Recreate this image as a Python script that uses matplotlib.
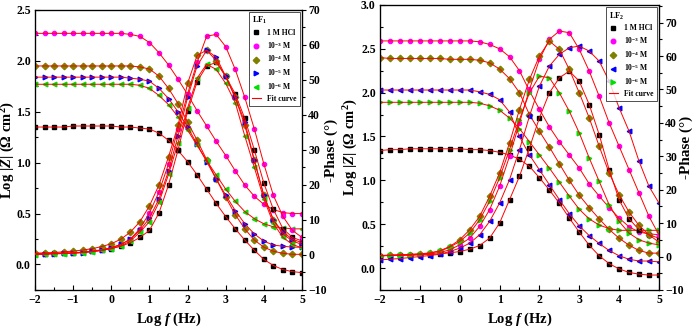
import matplotlib
matplotlib.use("Agg")
import matplotlib.pyplot as plt
from matplotlib.lines import Line2D
from matplotlib.ticker import MultipleLocator
import numpy as np

plt.rcParams['font.family'] = ['Liberation Serif', 'DejaVu Serif']
plt.rcParams['font.weight'] = 'bold'
plt.rcParams['mathtext.fontset'] = 'custom'
plt.rcParams['mathtext.rm'] = 'Liberation Serif:bold'
plt.rcParams['mathtext.it'] = 'Liberation Serif:bold:italic'
plt.rcParams['mathtext.bf'] = 'Liberation Serif:bold'

# log f (Hz), frequency sweep points
logf = np.linspace(-2, 5, 29)

labels = ['1 M HCl', '10$^{-3}$ M', '10$^{-4}$ M', '10$^{-5}$ M', '10$^{-6}$ M']
colors = ['#000000', '#FF00FF', '#808000', '#0000FF', '#00E000']

# ---- LF1 : Log|Z| ----
p1_mag_hcl = [1.35, 1.35, 1.35, 1.35, 1.36, 1.36, 1.36, 1.36, 1.36, 1.35, 1.35, 1.34, 1.33, 1.29, 1.22,
              1.12, 1.01, 0.88, 0.74, 0.60, 0.47, 0.35, 0.24, 0.14, 0.05, -0.01, -0.05, -0.07, -0.08]
p1_mag_m3 = [2.27, 2.27, 2.27, 2.27, 2.27, 2.27, 2.27, 2.27, 2.27, 2.27, 2.26, 2.24, 2.18, 2.08, 1.96,
             1.82, 1.67, 1.51, 1.36, 1.21, 1.07, 0.92, 0.78, 0.67, 0.59, 0.54, 0.51, 0.50, 0.50]
p1_mag_m4 = [1.95, 1.95, 1.95, 1.95, 1.95, 1.95, 1.95, 1.95, 1.95, 1.95, 1.95, 1.94, 1.92, 1.85, 1.73,
             1.58, 1.40, 1.22, 1.03, 0.84, 0.66, 0.49, 0.35, 0.24, 0.17, 0.13, 0.11, 0.10, 0.10]
p1_mag_m5 = [1.84, 1.84, 1.84, 1.84, 1.84, 1.84, 1.84, 1.84, 1.84, 1.84, 1.83, 1.82, 1.80, 1.73, 1.63,
             1.50, 1.35, 1.18, 1.01, 0.84, 0.68, 0.53, 0.40, 0.30, 0.23, 0.19, 0.18, 0.17, 0.17]
p1_mag_m6 = [1.77, 1.77, 1.77, 1.77, 1.77, 1.77, 1.77, 1.77, 1.77, 1.77, 1.77, 1.76, 1.73, 1.66, 1.57,
             1.45, 1.32, 1.17, 1.02, 0.88, 0.74, 0.62, 0.52, 0.45, 0.40, 0.37, 0.36, 0.35, 0.35]

# ---- LF1 : -Phase ----
p1_ph_hcl = [0.3, 0.4, 0.5, 0.5, 0.6, 0.8, 1.0, 1.3, 1.8, 2.5, 3.5, 5.0, 7.0, 12, 20,
             30, 41, 49.5, 54, 55, 51, 46, 39, 30, 20.5, 13, 7.5, 5, 4]
p1_ph_m3 = [0.2, 0.3, 0.4, 0.5, 0.6, 0.8, 1.1, 1.5, 2.1, 3.0, 4.5, 7.5, 12, 18, 26,
            36, 46, 55, 62.5, 63, 59.5, 53, 45, 36, 26, 17, 11, 7, 5]
p1_ph_m4 = [0.5, 0.6, 0.7, 0.9, 1.1, 1.4, 1.8, 2.4, 3.2, 4.5, 6.5, 9.5, 14, 20, 28,
            37, 49, 57, 58.5, 55.5, 51, 45, 37, 27, 17, 10, 6, 4, 3]
p1_ph_m5 = [0.3, 0.3, 0.4, 0.5, 0.5, 0.7, 1.0, 1.4, 2.0, 3.0, 4.5, 7, 10.5, 16, 24,
            34, 45, 54, 58.5, 56.5, 51, 45, 38, 27, 17, 10, 6.5, 4.5, 3.5]
p1_ph_m6 = [0.1, 0.2, 0.3, 0.4, 0.5, 0.7, 0.9, 1.3, 1.8, 2.6, 4, 6.5, 9.5, 15, 23,
            32, 42, 50.5, 54.5, 53, 49, 43.5, 34, 25, 16, 9, 5, 3, 2]

# ---- LF2 : Log|Z| ----
p2_mag_hcl = [1.34, 1.35, 1.35, 1.36, 1.36, 1.36, 1.36, 1.36, 1.36, 1.35, 1.35, 1.34, 1.32, 1.29, 1.24,
              1.16, 1.03, 0.89, 0.74, 0.57, 0.41, 0.26, 0.14, 0.05, -0.01, -0.05, -0.07, -0.08, -0.08]
p2_mag_m3 = [2.59, 2.59, 2.59, 2.59, 2.59, 2.59, 2.59, 2.59, 2.59, 2.59, 2.58, 2.55, 2.50, 2.41, 2.25,
             2.02, 1.81, 1.61, 1.44, 1.29, 1.14, 0.96, 0.82, 0.69, 0.57, 0.47, 0.41, 0.39, 0.38]
p2_mag_m4 = [2.40, 2.39, 2.39, 2.39, 2.39, 2.39, 2.39, 2.38, 2.38, 2.38, 2.37, 2.34, 2.27, 2.16, 2.00,
             1.75, 1.56, 1.38, 1.19, 1.00, 0.83, 0.69, 0.56, 0.44, 0.34, 0.26, 0.20, 0.17, 0.17]
p2_mag_m5 = [2.03, 2.03, 2.03, 2.03, 2.03, 2.03, 2.03, 2.03, 2.03, 2.03, 2.01, 1.98, 1.92, 1.78, 1.50,
             1.29, 1.12, 0.95, 0.78, 0.62, 0.48, 0.37, 0.28, 0.20, 0.14, 0.10, 0.08, 0.08, 0.07]
p2_mag_m6 = [1.89, 1.89, 1.89, 1.89, 1.89, 1.89, 1.89, 1.89, 1.89, 1.89, 1.88, 1.85, 1.80, 1.71, 1.59,
             1.44, 1.29, 1.14, 0.98, 0.82, 0.67, 0.56, 0.49, 0.45, 0.43, 0.43, 0.43, 0.43, 0.43]

# ---- LF2 : -Phase ----
p2_ph_hcl = [0.3, 0.3, 0.4, 0.4, 0.5, 0.6, 0.8, 1.1, 1.5, 2.2, 3.3, 5.5, 10, 17, 24,
             32.5, 41.5, 49, 53.5, 55.5, 52.5, 45.5, 36.5, 26, 17, 11.3, 8, 6.5, 5.5]
p2_ph_m3 = [0.2, 0.3, 0.4, 0.5, 0.6, 0.8, 1.2, 2.0, 3.5, 5.5, 9, 14, 21, 30, 40,
            50, 59, 65, 67.5, 67, 62, 55.5, 48, 40, 33, 26, 19, 12, 6.5]
p2_ph_m4 = [0.3, 0.4, 0.5, 0.6, 0.8, 1.1, 1.7, 3.0, 5.0, 8, 12, 18, 25, 34, 44,
            53, 60, 64.5, 62, 56, 49, 41.5, 33, 25, 18.5, 13.3, 9.3, 6.5, 4.3]
p2_ph_m5 = [-1.0, -0.8, -0.6, -0.3, 0.0, 0.3, 0.7, 1.5, 2.5, 4, 6.5, 10.5, 16, 23, 32,
            42, 51, 57, 60.5, 62.5, 63, 61.5, 58.5, 52.5, 44.5, 37.5, 28.5, 21, 16]
p2_ph_m6 = [0.3, 0.4, 0.5, 0.6, 0.8, 1.0, 1.6, 2.8, 4.5, 7, 11, 16.5, 23.5, 32, 41,
            49, 54, 53.5, 49, 43.5, 37, 29.5, 22.5, 15.5, 10.5, 7, 5, 4, 3.5]

panels = [
    dict(mag=[p1_mag_hcl, p1_mag_m3, p1_mag_m4, p1_mag_m5, p1_mag_m6],
         ph=[p1_ph_hcl, p1_ph_m3, p1_ph_m4, p1_ph_m5, p1_ph_m6],
         markers=['s', 'o', 'D', '>', '<'], title='LF$_1$',
         rect=[0.0505, 0.124, 0.3853, 0.846], ylim=(-0.25, 2.5), y2lim=(-10, 70),
         ylab_x=-0.066, y2lab_x=1.086),
    dict(mag=[p2_mag_hcl, p2_mag_m3, p2_mag_m4, p2_mag_m5, p2_mag_m6],
         ph=[p2_ph_hcl, p2_ph_m3, p2_ph_m4, p2_ph_m5, p2_ph_m6],
         markers=['s', 'o', 'D', '<', '>'], title='LF$_2$',
         rect=[0.5483, 0.124, 0.4026, 0.861], ylim=(-0.25, 3.0), y2lim=(-10, 75.3),
         ylab_x=-0.071, y2lab_x=1.072),
]

fig = plt.figure(figsize=(6.93, 3.31), dpi=100)

for pn in panels:
    ax = fig.add_axes(pn['rect'])
    ax2 = ax.twinx()
    handles = []
    for i in range(5):
        ms = 3.0 if pn['markers'][i] in ('s', 'o') else 3.3
        ax.plot(logf, pn['mag'][i], linestyle='none', marker=pn['markers'][i], ms=ms,
                color=colors[i], mec=colors[i], zorder=2)
        ax2.plot(logf, pn['ph'][i], linestyle='none', marker=pn['markers'][i], ms=ms,
                 color=colors[i], mec=colors[i], zorder=2)
        handles.append(Line2D([], [], linestyle='none', marker=pn['markers'][i], ms=3.3,
                              color=colors[i], mec=colors[i], label=labels[i]))
    for i in range(5):
        ax.plot(logf, pn['mag'][i], color='red', lw=0.7, zorder=3)
        ax2.plot(logf, pn['ph'][i], color='red', lw=0.7, zorder=3)
    handles.append(Line2D([], [], color='red', lw=0.8, label='Fit curve'))

    ax.set_xlim(-2, 5)
    ax.set_ylim(*pn['ylim'])
    ax2.set_ylim(*pn['y2lim'])
    ax.xaxis.set_major_locator(MultipleLocator(1))
    ax.xaxis.set_minor_locator(MultipleLocator(0.5))
    ax.yaxis.set_major_locator(MultipleLocator(0.5))
    ax.yaxis.set_minor_locator(MultipleLocator(0.25))
    ax2.yaxis.set_major_locator(MultipleLocator(10))
    ax2.yaxis.set_minor_locator(MultipleLocator(5))
    ax.tick_params(which='both', direction='in', labelsize=8.5, width=0.8, pad=3)
    ax.tick_params(which='major', length=3.5)
    ax.tick_params(which='minor', length=2)
    ax2.tick_params(which='both', direction='out', labelsize=8.5, width=0.8, pad=1.5)
    ax2.tick_params(which='major', length=3)
    ax2.tick_params(which='minor', length=2)
    ax.set_yticks(ax.get_yticks())
    ax.set_yticklabels([f'{v:.1f}' for v in ax.get_yticks()])
    ax.set_ylim(*pn['ylim'])
    for lbl in ax.get_xticklabels() + ax.get_yticklabels() + ax2.get_yticklabels():
        lbl.set_fontweight('bold')
    for sp in ax.spines.values():
        sp.set_linewidth(0.9)

    ax.set_xlabel('Log $\\mathit{f}$ (Hz)', fontsize=10.5, fontweight='bold', labelpad=3)
    ax.set_ylabel('Log |$\\mathit{Z}$| ($\\Omega$ cm$^2$)', fontsize=10.5, fontweight='bold')
    ax2.set_ylabel('-Phase (°)', fontsize=11, fontweight='bold')
    ax.yaxis.set_label_coords(pn['ylab_x'], 0.5)
    ax2.yaxis.set_label_coords(pn['y2lab_x'], 0.5)

    leg = ax2.legend(handles=handles, loc='upper right', bbox_to_anchor=(1.0, 1.0),
                     borderaxespad=0.3, fontsize=5.5, title=pn['title'], title_fontsize=6,
                     frameon=True, fancybox=False, edgecolor='black', handlelength=1.2,
                     handletextpad=0.8, labelspacing=0.35, borderpad=0.4)
    leg.get_frame().set_linewidth(0.6)
    leg._legend_box.align = 'left'

fig.savefig('out.png', dpi=100)
